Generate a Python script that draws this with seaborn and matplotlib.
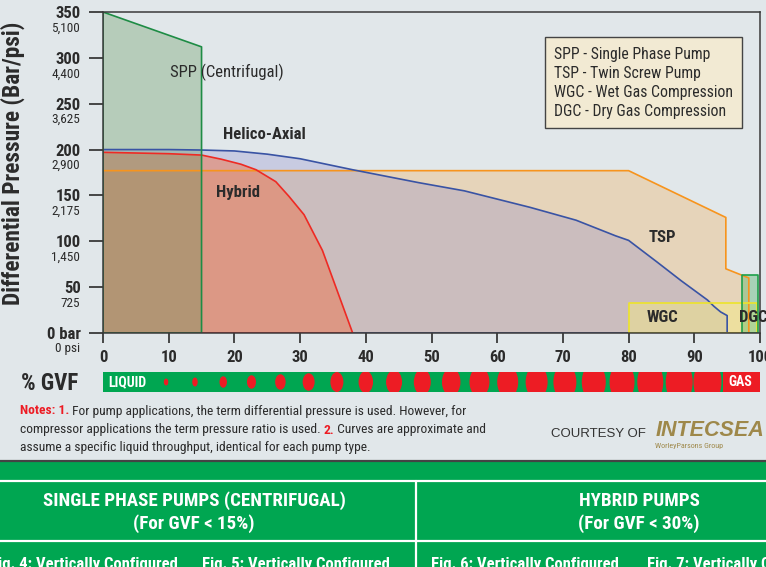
import seaborn as sns
import matplotlib.pyplot as plt
from matplotlib.patches import Ellipse, Rectangle
from matplotlib.lines import Line2D

BG = '#e1e7ea'
GREEN = '#00a651'
RED = '#ed1c24'
DARK = '#2b2b2b'

sns.set_style('white', {'axes.facecolor': BG, 'figure.facecolor': BG})
plt.rcParams['font.family'] = ['Roboto Condensed', 'Liberation Sans Narrow', 'DejaVu Sans']

# axis ticks
gvf_ticks = [0, 10, 20, 30, 40, 50, 60, 70, 80, 90, 100]
bar_ticks = [0, 50, 100, 150, 200, 250, 300, 350]
bar_labels = ['0 bar', '50', '100', '150', '200', '250', '300', '350']
psi_labels = ['0 psi', '725', '1,450', '2,175', '2,900', '3,625', '4,400', '5,100']

# operating envelopes (GVF %, differential pressure bar)
spp_x = [0, 0, 15, 15, 0]
spp_y = [0, 350, 312, 0, 0]
helico_x = [0, 10, 15, 20, 25, 30, 38, 48, 55, 65, 72, 78, 80, 84.4, 88, 92, 93, 94, 95, 95, 0]
helico_y = [200, 200, 199.5, 198.5, 195, 190, 178, 164, 155, 137, 123, 106, 101, 77, 57, 36, 29, 23, 19, 0, 0]
hybrid_x = [0, 10, 15, 18, 21, 23.3, 26.3, 28.3, 30.6, 33.4, 38, 0]
hybrid_y = [197, 195.5, 194, 189.5, 184, 178, 165, 149, 129, 90, 0, 0]
tsp_x = [0, 80, 94.8, 94.8, 98.3, 98.3, 0]
tsp_y = [177, 177, 126, 70, 60, 0, 0]
wgc_x = [80, 80, 99.5, 99.5, 80]
wgc_y = [0, 33, 33, 0, 0]
dgc_x = [97.2, 97.2, 99.7, 99.7, 97.2]
dgc_y = [0, 63, 63, 0, 0]

# GVF strip bubbles (x in %GVF, size in pixels)
dot_x = [9.6, 14, 18.3, 22.6, 27, 31.3, 35.6, 40, 44.3, 48.6, 53, 57.3, 61.6, 66, 70.3, 74.7, 79, 83.3, 87.7, 92]
dot_w = [4.5, 5.5, 7.5, 9, 10.5, 12, 13, 14.5, 16, 17, 18.5, 20, 21, 22, 23, 24, 25, 26, 27, 28]
dot_h = [7, 9, 11.5, 13.5, 15.5, 17.5, 20, 22, 24, 26, 28, 30, 32, 34, 36, 38, 40, 42, 44, 46]

legend_lines = ['SPP - Single Phase Pump', 'TSP - Twin Screw Pump',
                'WGC - Wet Gas Compression', 'DGC - Dry Gas Compression']

W, H = 766, 567
fig = plt.figure(figsize=(W / 100, H / 100), dpi=100)


def fx(px):
    return px / W


def fy(py):
    return 1 - py / H


ax = fig.add_axes([fx(103), fy(333), 657 / W, 321 / H])

envelopes = [
    (tsp_x, tsp_y, (0.94, 0.70, 0.40, 0.36), '#f7941d'),
    (helico_x, helico_y, (0.52, 0.50, 0.80, 0.27), '#3953a4'),
    (hybrid_x, hybrid_y, (0.93, 0.46, 0.30, 0.5), '#ee2a24'),
    (spp_x, spp_y, (0.33, 0.56, 0.30, 0.3), '#1e8c45'),
    (wgc_x, wgc_y, (0.97, 0.93, 0.50, 0.45), '#ede42a'),
    (dgc_x, dgc_y, (0.25, 0.68, 0.35, 0.35), '#1fa04a'),
]
for xs, ys, fc, ec in envelopes:
    ax.fill(xs, ys, color=fc, lw=0)
    sns.lineplot(x=xs, y=ys, sort=False, estimator=None, color=ec, lw=1.2, ax=ax)

ax.set_xlim(0, 100)
ax.set_ylim(0, 350)
ax.set_xticks(gvf_ticks)
ax.set_xticklabels([str(t) for t in gvf_ticks], fontsize=12, fontweight='bold', color=DARK)
ax.set_yticks(bar_ticks)
ax.set_yticklabels(bar_labels, fontsize=12, fontweight='bold', color=DARK)
ax.tick_params(axis='y', direction='out', length=10, width=1.2, pad=6, colors=DARK, left=True)
ax.tick_params(axis='x', direction='out', length=7, width=1.2, pad=5, colors=DARK, bottom=True)
for s in ax.spines.values():
    s.set_color('#3a3a3a')
    s.set_linewidth(1.1)
ax.set_xlabel('')
ax.set_ylabel('')

for v, lab in zip(bar_ticks, psi_labels):
    ax.annotate(lab, xy=(0, v), xycoords=('axes fraction', 'data'), xytext=(-16.5, -11.5),
                textcoords='offset points', ha='right', va='center', fontsize=9.5, color=DARK,
                annotation_clip=False)

ax.text(18.9, 284, 'SPP (Centrifugal)', fontsize=12, ha='center', va='center', color=DARK)
ax.text(24.5, 216, 'Helico-Axial', fontsize=12, fontweight='bold', ha='center', va='center', color=DARK)
ax.text(20.6, 153, 'Hybrid', fontsize=12, fontweight='bold', ha='center', va='center', color=DARK)
ax.text(85.2, 104, 'TSP', fontsize=12, fontweight='bold', ha='center', va='center', color=DARK)
ax.text(85.2, 17, 'WGC', fontsize=12, fontweight='bold', ha='center', va='center', color=DARK)
ax.text(96.8, 17, 'DGC', fontsize=12, fontweight='bold', ha='left', va='center', color=DARK, clip_on=False)

fig.text(fx(13), fy(163), 'Differential Pressure (Bar/psi)', rotation=90, fontsize=16.8,
         fontweight='bold', ha='center', va='center', color=DARK)

# legend box
fig.patches.append(Rectangle((fx(545), fy(128)), 197 / W, 91 / H, transform=fig.transFigure,
                             facecolor='#f2ead3', edgecolor='#444444', lw=1))
for i, line in enumerate(legend_lines):
    fig.text(fx(554), fy(54 + 19.2 * i), line, fontsize=11.3, ha='left', va='center', color=DARK)

# GVF strip
sx = fig.add_axes([fx(103), fy(392), 657 / W, 20 / H])
sx.set_facecolor(GREEN)
sx.set_xlim(0, 100)
sx.set_ylim(0, 1)
sx.set_xticks([])
sx.set_yticks([])
for s in sx.spines.values():
    s.set_visible(False)
for x, w, h in zip(dot_x, dot_w, dot_h):
    sx.add_patch(Ellipse((x, 0.5), w / 6.57, h / 20, color=RED, lw=0))
sx.add_patch(Rectangle((94.4, 0), 5.6, 1, color=RED, lw=0))
sx.text(0.8, 0.5, 'LIQUID', color='white', fontsize=10, fontweight='bold', ha='left', va='center')
sx.text(97, 0.5, 'GAS', color='white', fontsize=10, fontweight='bold', ha='center', va='center')
fig.text(fx(50), fy(383), '% GVF', fontsize=16.5, fontweight='bold', ha='center', va='center', color=DARK)

# notes with coloured runs
renderer = fig.canvas.get_renderer()


def runs(x, y, parts, size=9.7):
    for s, color, weight in parts:
        t = fig.text(x, y, s, color=color, fontsize=size, fontweight=weight, ha='left', va='center')
        x += t.get_window_extent(renderer=renderer).width / fig.bbox.width


runs(fx(20), fy(411), [('Notes: 1.', RED, 'bold'),
                       (' For pump applications, the term differential pressure is used. However, for', DARK, 'normal')])
runs(fx(20), fy(430), [('compressor applications the term pressure ratio is used. ', DARK, 'normal'),
                       ('2.', RED, 'bold'), (' Curves are approximate and', DARK, 'normal')])
runs(fx(20), fy(448), [('assume a specific liquid throughput, identical for each pump type.', DARK, 'normal')])

fig.text(fx(646), fy(434), 'COURTESY OF', fontsize=9.5, family='Liberation Sans', ha='right', va='center', color='#333333')
fig.text(fx(656), fy(431), 'INTECSEA', fontsize=15.5, family='Liberation Sans', fontweight='heavy', style='italic',
         ha='left', va='center', color='#9e884a')
fig.text(fx(655), fy(446), 'WorleyParsons Group', fontsize=5.8, ha='left', va='center',
         color='#9e884a')

# green table header
fig.patches.append(Rectangle((0, 0), 1, fy(461), transform=fig.transFigure, facecolor=GREEN, lw=0))
fig.lines.append(Line2D([0, 1], [fy(461), fy(461)], transform=fig.transFigure, color='#444444', lw=1.6))
fig.lines.append(Line2D([0, 1], [fy(480.5), fy(480.5)], transform=fig.transFigure, color='white', lw=1.6))
fig.lines.append(Line2D([0, 1], [fy(540.5), fy(540.5)], transform=fig.transFigure, color='white', lw=1.6))
fig.lines.append(Line2D([fx(416), fx(416)], [0, fy(480.5)], transform=fig.transFigure, color='white', lw=1.6))

for cx, title, sub in [(194, 'SINGLE PHASE PUMPS (CENTRIFUGAL)', '(For GVF < 15%)'),
                       (639, 'HYBRID PUMPS', '(For GVF < 30%)')]:
    fig.text(fx(cx), fy(501), title, fontsize=13.7, fontweight='bold', ha='center', va='center', color='white')
    fig.text(fx(cx), fy(524), sub, fontsize=13.7, fontweight='bold', ha='center', va='center', color='white')

for cx, lab in [(84, 'Fig. 4: Vertically Configured'), (296, 'Fig. 5: Vertically Configured'),
                (525, 'Fig. 6: Vertically Configured'), (647, 'Fig. 7: Vertically Configured')]:
    fig.text(fx(cx), fy(564), lab, fontsize=12, fontweight='bold', va='center', color='white',
             ha='left' if cx == 647 else 'center')

fig.savefig('out.png', dpi=100)
